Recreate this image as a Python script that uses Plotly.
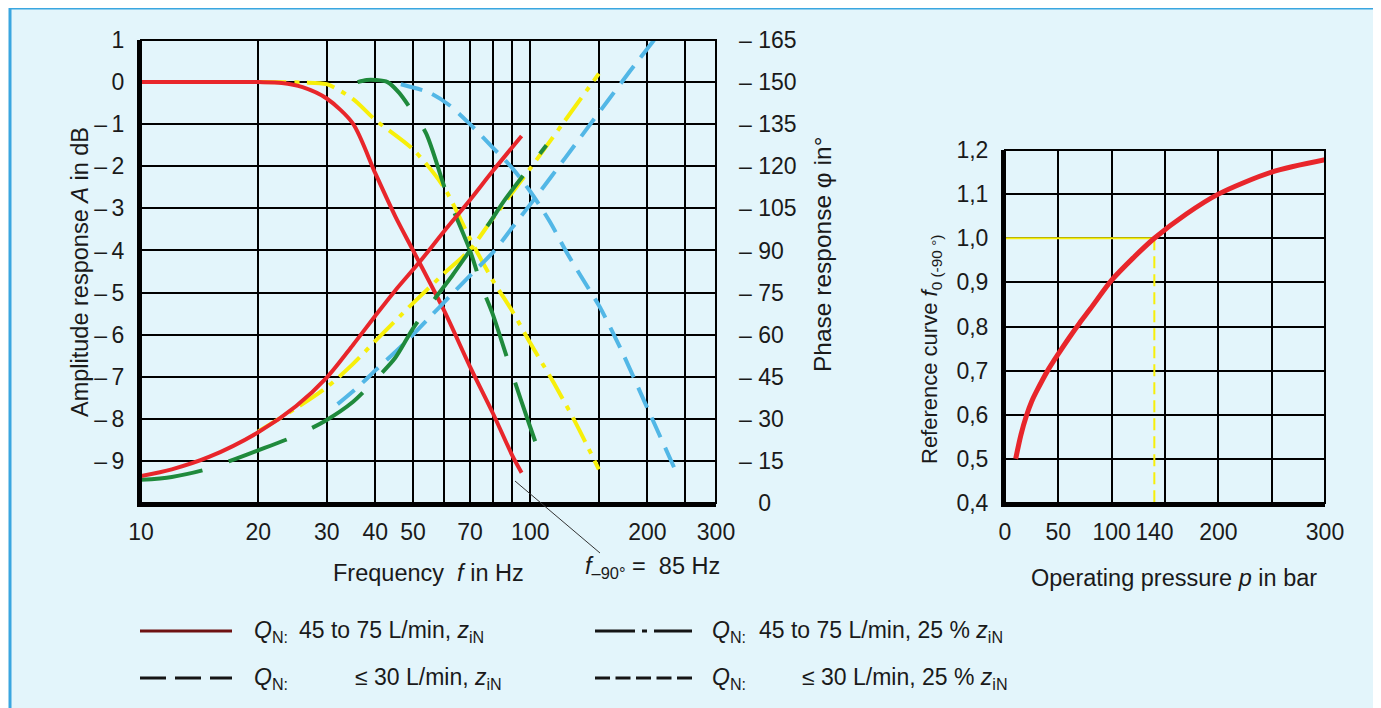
import plotly.graph_objects as go

W, H = 1381, 708
OFF = 8  # page body margin: figure is drawn 8px right/down in the page

# ---------------- data: left chart (frequency response) ----------------
# amplitude curves (dB) and phase curves (degrees)
red_amp_f = [10, 20, 23, 26, 30, 35, 40, 45, 50, 60, 70, 80, 90, 95]
red_amp_A = [0, 0, -0.02, -0.12, -0.39, -0.98, -2.17, -3.19, -4.0, -5.42, -6.76, -7.85, -8.88, -9.28]
red_ph_f = [10, 12, 15, 20, 25, 30, 35, 40, 45, 52, 60, 70, 80, 95]
red_ph_deg = [9.6, 12, 16.5, 25.2, 34.5, 44.7, 56.25, 66.75, 75.75, 85.95, 96.75, 108, 118.2, 130.8]

yel_amp_f = [20, 26, 30, 35, 40, 50, 60, 70, 80, 90, 100, 115, 130, 150]
yel_amp_A = [0, -0.01, -0.05, -0.4, -0.9, -1.6, -2.5, -3.72, -4.7, -5.45, -6.2, -7.15, -8.05, -9.2]
yel_ph_f = [20, 25, 30, 35, 40, 50, 60, 70, 80, 100, 122, 150]
yel_ph_deg = [25.5, 33.75, 41.25, 49.5, 57.75, 71.25, 81.75, 90.3, 101.25, 119.25, 135.75, 153]

grn_amp_f = [36, 38, 40, 43, 46, 49, 54, 61, 70, 75, 80, 90, 100, 108.5]
grn_amp_A = [0.0, 0.05, 0.05, 0.0, -0.25, -0.6, -1.22, -2.65, -4.0, -4.85, -5.5, -6.95, -8.2, -9.13]
grn_ph_f = [10, 12, 14.7, 17.5, 20, 25, 29.7, 35, 39.7, 45, 50, 56.8, 63, 70, 78.5, 86, 100, 110]
grn_ph_deg = [8.25, 9.3, 12, 15.75, 18.75, 24, 29.25, 36, 43.5, 51.75, 62.25, 72.75, 81, 90, 99.75, 108, 120, 127.5]

blu_amp_f = [46.5, 55, 62, 70, 80, 90, 100, 112, 125, 140, 151, 172, 200, 234]
blu_amp_A = [-0.05, -0.25, -0.55, -1.0, -1.55, -2.05, -2.6, -3.3, -4.1, -4.85, -5.35, -6.4, -7.75, -9.15]
blu_ph_f = [32, 36, 40, 47.6, 55, 62, 70, 81, 90, 104, 123, 140, 158, 180, 208]
blu_ph_deg = [35.25, 41.25, 47.25, 57, 66, 73.5, 81, 90, 98.25, 109.5, 123, 133.5, 143.25, 153.75, 165]

freq_ticks = [10, 20, 30, 40, 50, 70, 100, 200, 300]
freq_minor = [60, 80, 90, 150, 250]
amp_ticks = [1, 0, -1, -2, -3, -4, -5, -6, -7, -8, -9]
phase_ticks = [165, 150, 135, 120, 105, 90, 75, 60, 45, 30, 15, 0]

# ---------------- data: right chart (reference curve) ----------------
press_p = [10, 15, 20, 25, 30, 40, 50, 60, 70, 80, 100, 120, 140, 170, 200, 250, 300]
ref_f0 = [0.5, 0.555, 0.597, 0.63, 0.655, 0.70, 0.738, 0.774, 0.808, 0.84, 0.905, 0.955, 1.0, 1.055, 1.1, 1.15, 1.178]
op_point_p = 140
op_point_f0 = 1.0
press_ticks = [0, 50, 100, 140, 200, 300]
press_grid = [0, 50, 100, 150, 200, 250, 300]
f0_ticks = [0.4, 0.5, 0.6, 0.7, 0.8, 0.9, 1.0, 1.1, 1.2]

RED = "#e8262b"
YEL = "#f7ef0a"
GRN = "#1f8a3c"
BLU = "#52b7e6"
FONT = "Liberation Sans, Arial, sans-serif"
TXT = "#1a1a1a"
FS = 23

fig = go.Figure()

def curve(x, y, color, dash, yaxis="y", xaxis="x", width=4):
    fig.add_trace(go.Scatter(x=x, y=y, mode="lines", xaxis=xaxis, yaxis=yaxis,
                             line=dict(color=color, width=width, dash=dash, shape="spline", smoothing=0.8),
                             showlegend=False, hoverinfo="skip"))

BDASH = "22px,11px"
YDASH = "28px,8px,5px,8px"
GDASH = "62px,28px"

curve(blu_amp_f, blu_amp_A, BLU, BDASH)
curve(blu_ph_f, blu_ph_deg, BLU, BDASH, yaxis="y2")
curve(yel_amp_f, yel_amp_A, YEL, YDASH)
curve(yel_ph_f, yel_ph_deg, YEL, YDASH, yaxis="y2")
curve(grn_amp_f, grn_amp_A, GRN, GDASH)
curve(grn_ph_f, grn_ph_deg, GRN, GDASH, yaxis="y2")
curve(red_amp_f, red_amp_A, RED, "solid")
curve(red_ph_f, red_ph_deg, RED, "solid", yaxis="y2")

# right chart
fig.add_trace(go.Scatter(x=[0, op_point_p], y=[op_point_f0, op_point_f0], mode="lines",
                         xaxis="x3", yaxis="y3", line=dict(color=YEL, width=2),
                         showlegend=False, hoverinfo="skip"))
fig.add_trace(go.Scatter(x=[op_point_p, op_point_p], y=[op_point_f0, f0_ticks[0]], mode="lines",
                         xaxis="x3", yaxis="y3", line=dict(color=YEL, width=2, dash="12px,6px"),
                         showlegend=False, hoverinfo="skip"))
fig.add_trace(go.Scatter(x=press_p, y=ref_f0, mode="lines", xaxis="x3", yaxis="y3",
                         line=dict(color=RED, width=5, shape="spline", smoothing=0.8),
                         showlegend=False, hoverinfo="skip"))

# page pixel -> figure paper fraction
def px_x(x):
    return (x - OFF) / W

def px_y(y):
    return (H - (y - OFF)) / H

L_X0, L_X1, L_Y0, L_Y1 = 141, 716, 503, 40
R_X0, R_X1, R_Y0, R_Y1 = 1005, 1325, 503, 150

tickfont = dict(family=FONT, size=FS, color=TXT)
grid = dict(showgrid=True, gridcolor="black", gridwidth=2)

def minus(v):
    return str(v) if v >= 0 else "\u2013\u2009" + str(-v)

fig.update_layout(
    width=W, height=H, margin=dict(l=0, r=0, t=0, b=0, autoexpand=False),
    paper_bgcolor="white", plot_bgcolor="white",
    font=dict(family=FONT, size=FS, color=TXT),
    xaxis=dict(type="log", range=[1, 2.4771], domain=[px_x(L_X0), px_x(L_X1)], anchor="y",
               tickvals=freq_ticks, ticktext=[str(v) for v in freq_ticks], tickfont=tickfont,
               ticks="", ticklabelstandoff=5, zeroline=False, automargin=False,
               showline=True, linewidth=4, linecolor="black", **grid,
               minor=dict(tickvals=freq_minor, showgrid=True, gridcolor="black", gridwidth=2, ticks="")),
    yaxis=dict(range=[-10, 1], domain=[px_y(L_Y0), px_y(L_Y1)], anchor="x",
               tickvals=amp_ticks, ticktext=[minus(v) for v in amp_ticks], tickfont=tickfont,
               ticks="", ticklabelstandoff=8, zeroline=False, automargin=False,
               showline=True, linewidth=4, linecolor="black", **grid),
    yaxis2=dict(range=[0, 165], overlaying="y", side="right", anchor="x", automargin=False,
                tickvals=phase_ticks,
                ticktext=[("\u2013 " + str(v)) if v > 0 else "\u00a0\u00a0\u00a0" + str(v) for v in phase_ticks],
                tickfont=tickfont, ticks="", ticklabelstandoff=22, showgrid=False, zeroline=False),
    xaxis3=dict(range=[0, 300], domain=[px_x(R_X0), px_x(R_X1)], anchor="y3", automargin=False,
                tickvals=press_ticks, ticktext=[str(v) for v in press_ticks], tickfont=tickfont,
                ticks="", ticklabelstandoff=5, showgrid=False, zeroline=False,
                showline=True, linewidth=4, linecolor="black",
                minor=dict(tickvals=press_grid, showgrid=True, gridcolor="black", gridwidth=2, ticks="")),
    yaxis3=dict(range=[0.4, 1.2], domain=[px_y(R_Y0), px_y(R_Y1)], anchor="x3", automargin=False,
                tickvals=f0_ticks, ticktext=[("%.1f" % v).replace(".", ",") for v in f0_ticks],
                tickfont=tickfont, ticks="", ticklabelstandoff=8, zeroline=False,
                showline=True, linewidth=4, linecolor="black", **grid),
)

shapes = [
    # outer light-cyan frame
    dict(type="rect", xref="paper", yref="paper", x0=px_x(10), x1=px_x(1377), y0=-0.05, y1=px_y(8),
         fillcolor="#e3f5fb", line=dict(color="#3aa6e0", width=3), layer="below"),
    # plot borders (top/right)
    dict(type="rect", xref="x domain", yref="y domain", x0=0, x1=1, y0=0, y1=1,
         line=dict(color="black", width=2), layer="above"),
    dict(type="rect", xref="x3 domain", yref="y3 domain", x0=0, x1=1, y0=0, y1=1,
         line=dict(color="black", width=2), layer="above"),
    # leader line for f-90 annotation
    dict(type="line", xref="paper", yref="paper", x0=px_x(515), y0=px_y(481), x1=px_x(600), y1=px_y(553),
         line=dict(color="#333333", width=1)),
]

# legend samples
LEG = [
    (140, 232, 631, "#6e1212", "solid"),
    (595, 692, 631, "#151515", "40px,7px,5px,7px"),
    (140, 232, 678, "#151515", "26px,9px"),
    (595, 692, 678, "#151515", "15px,5.5px"),
]
for x0, x1, y, c, d in LEG:
    shapes.append(dict(type="line", xref="paper", yref="paper", x0=px_x(x0), x1=px_x(x1),
                       y0=px_y(y), y1=px_y(y), line=dict(color=c, width=3, dash=d)))

fig.update_layout(shapes=shapes)

ann = []

def text(x, y, s, xanchor="center", angle=0, size=FS):
    ann.append(dict(xref="paper", yref="paper", x=px_x(x), y=px_y(y), text=s, showarrow=False,
                    xanchor=xanchor, yanchor="middle", textangle=angle,
                    font=dict(family=FONT, size=size, color=TXT)))

TS = 23.5
LS = 23
text(80, 272, "Amplitude response <i>A</i> in dB", angle=-90, size=TS)
text(822, 255, "Phase response φ in°", angle=-90, size=24.5)
text(428, 573, "Frequency  <i>f</i> in Hz", size=TS)
text(652, 567, "<i>f</i><sub>\u201390°</sub> =  85 Hz", size=TS)
text(931, 350, "Reference curve <i>f</i><sub>0 (-90 °)</sub>", angle=-90, size=22)
text(1174, 578, "Operating pressure <i>p</i> in bar", size=TS)

qn = "<i>Q</i><sub>N:</sub>"
text(252, 631, qn, xanchor="left", size=LS)
text(297, 631, "45 to 75 L/min, <i>z</i><sub>iN</sub>", xanchor="left", size=LS)
text(710, 631, qn, xanchor="left", size=LS)
text(757, 631, "45 to 75 L/min, 25 % <i>z</i><sub>iN</sub>", xanchor="left", size=LS)
text(252, 678, qn, xanchor="left", size=LS)
text(353, 678, "≤ 30 L/min, <i>z</i><sub>iN</sub>", xanchor="left", size=LS)
text(710, 678, qn, xanchor="left", size=LS)
text(800, 678, "≤ 30 L/min, 25 % <i>z</i><sub>iN</sub>", xanchor="left", size=LS)

fig.update_layout(annotations=ann)

fig.write_html("out.html")
